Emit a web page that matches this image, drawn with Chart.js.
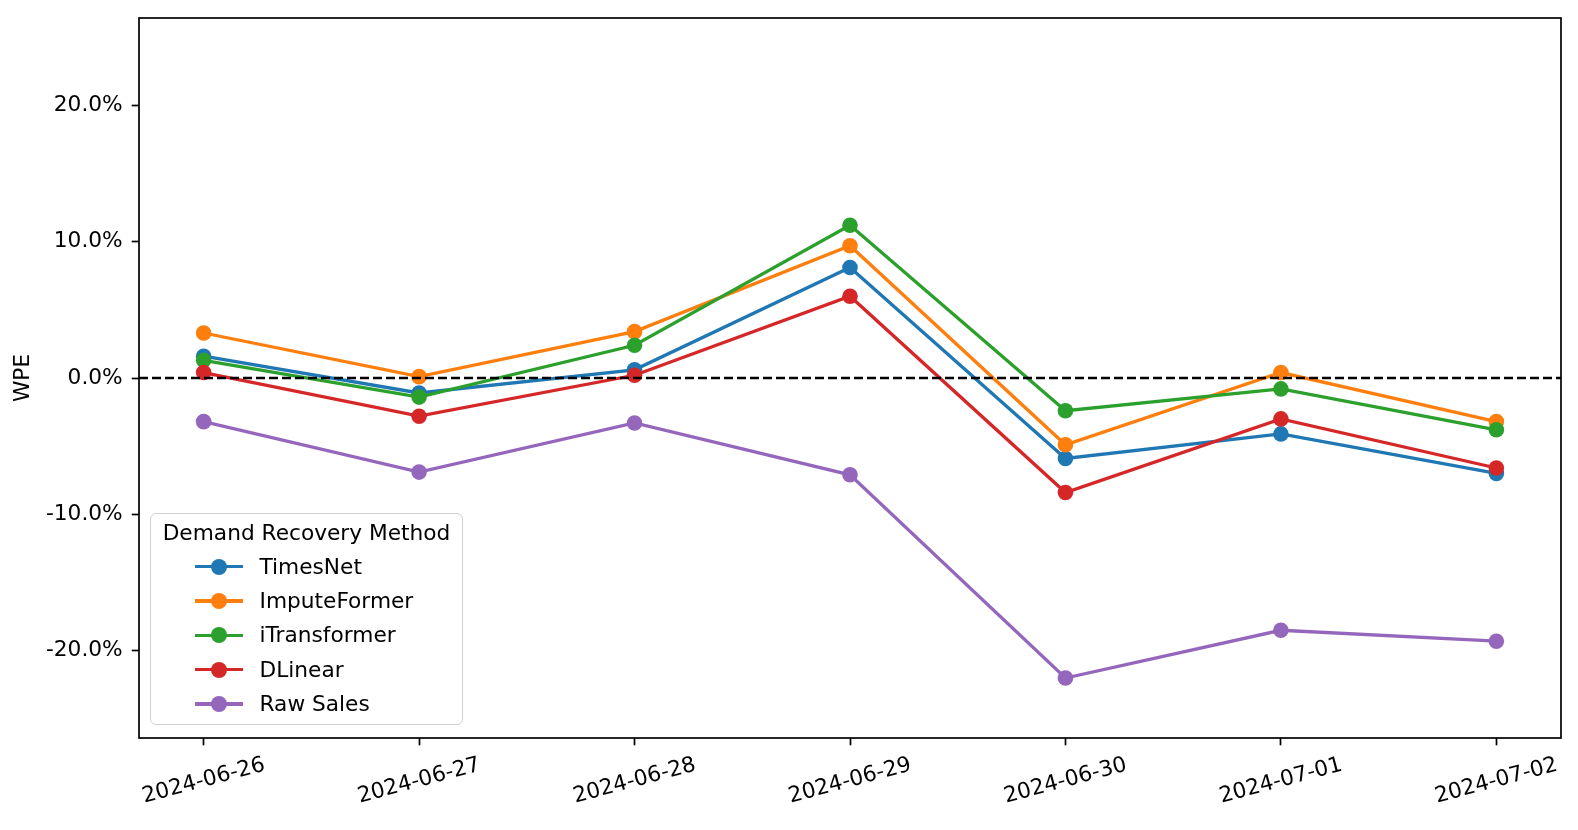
<!DOCTYPE html>
<html>
<head>
<meta charset="utf-8">
<script src="https://cdn.jsdelivr.net/npm/chart.js@4.4.1/dist/chart.umd.min.js"></script>
<style>
  body { margin: 0; background: #fff; }
  #wrap { position: relative; width: 1578px; height: 830px; }
  #legend { position: absolute; left: 150px; top: 513px; width: 313px; height: 212px;
    border: 1.5px solid #d0d0d0; border-radius: 6px; background: rgba(255,255,255,0.85);
    font: 21.7px "DejaVu Sans"; color: #000; box-sizing: border-box; }
  #legend .ttl { position: absolute; left: 0; right: 0; top: 2px; height: 34px; line-height: 34px; text-align: center; }
  #legend .row { position: absolute; left: 0; height: 34px; line-height: 34px; }
  #legend .ln { position: absolute; left: 43.5px; top: 15.4px; width: 48px; height: 3.3px; }
  #legend .dot { position: absolute; left: 59.5px; top: 9px; width: 16px; height: 16px; border-radius: 50%; }
  #legend .lbl { position: absolute; left: 108.5px; top: 0; white-space: nowrap; }
</style>
</head>
<body>
<div id="wrap">
  <canvas id="myChart" width="1578" height="830"></canvas>
  <div id="legend"></div>
</div>
<script>
// data
const dates = ['2024-06-26', '2024-06-27', '2024-06-28', '2024-06-29', '2024-06-30', '2024-07-01', '2024-07-02'];
const timesNet = [1.6, -1.1, 0.6, 8.1, -5.9, -4.1, -7.0];
const imputeFormer = [3.3, 0.1, 3.4, 9.7, -4.9, 0.4, -3.2];
const iTransformer = [1.3, -1.4, 2.4, 11.2, -2.4, -0.8, -3.8];
const dLinear = [0.4, -2.8, 0.2, 6.0, -8.4, -3.0, -6.6];
const rawSales = [-3.2, -6.9, -3.3, -7.1, -22.0, -18.5, -19.3];
const yTicks = [-20, -10, 0, 10, 20];

const seriesNames = ['TimesNet', 'ImputeFormer', 'iTransformer', 'DLinear', 'Raw Sales'];
const seriesValues = [timesNet, imputeFormer, iTransformer, dLinear, rawSales];
const colors = ['#1f77b4', '#ff7f0e', '#2ca02c', '#d62728', '#9467bd'];

Chart.defaults.font.family = '"DejaVu Sans"';
Chart.defaults.color = '#000';

let ctx = document.getElementById("myChart").getContext('2d');

// zero line, frame and rotated date labels
const extras = {
  id: 'extras',
  afterDatasetsDraw(chart) {
    const c = chart.ctx, a = chart.chartArea;
    const y0 = chart.scales.y.getPixelForValue(0);
    c.save();
    c.setLineDash([9, 4]);
    c.lineWidth = 2.5;
    c.strokeStyle = '#000';
    c.beginPath(); c.moveTo(a.left, y0); c.lineTo(a.right, y0); c.stroke();
    c.restore();
  },
  afterDraw(chart) {
    const c = chart.ctx, a = chart.chartArea;
    c.save();
    c.lineWidth = 1.7;
    c.strokeStyle = '#000';
    c.strokeRect(a.left, a.top, a.right - a.left, a.bottom - a.top);
    c.font = '21.7px "DejaVu Sans"';
    c.fillStyle = '#000';
    c.textAlign = 'center';
    c.textBaseline = 'middle';
    const ang = 15 * Math.PI / 180;
    dates.forEach((d, i) => {
      const x = chart.scales.x.getPixelForValue(i);
      const w = c.measureText(d).width;
      const h = w * Math.sin(ang) + 25 * Math.cos(ang);
      c.save();
      c.translate(x, a.bottom + 14.6 + h / 2);
      c.rotate(-ang);
      c.fillText(d, 0, 0);
      c.restore();
    });
    c.restore();
  }
};

let myChart = new Chart(ctx, {
  type: 'line',
  data: {
    datasets: seriesNames.map((name, k) => ({
      label: name,
      data: seriesValues[k].map((v, i) => ({ x: i, y: v })),
      borderColor: colors[k],
      backgroundColor: colors[k],
      pointBackgroundColor: colors[k],
      pointBorderWidth: 0,
      pointRadius: 7.8,
      borderWidth: 3.3,
      fill: false,
      tension: 0,
      order: seriesNames.length - k
    }))
  },
  options: {
    responsive: false,
    animation: false,
    devicePixelRatio: 1,
    layout: { padding: { top: 18, right: 17, left: 0, bottom: 0 } },
    plugins: { legend: { display: false }, tooltip: { enabled: false } },
    scales: {
      x: {
        type: 'linear',
        min: -0.3,
        max: 6.3,
        afterBuildTicks: s => { s.ticks = dates.map((d, i) => ({ value: i })); },
        afterFit: s => { s.height = 92; s.paddingLeft = 0; s.paddingRight = 0; },
        ticks: { display: false },
        grid: { drawOnChartArea: false, drawTicks: true, tickLength: 7.3, tickWidth: 1.7, tickColor: '#000' },
        border: { display: false }
      },
      y: {
        min: -26.4,
        max: 26.4,
        afterBuildTicks: s => { s.ticks = yTicks.map(v => ({ value: v })); },
        afterFit: s => { s.width = 139; s.paddingTop = 0; s.paddingBottom = 0; },
        ticks: { font: { size: 21.7 }, color: '#000', padding: 9, callback: v => v.toFixed(1) + '%' },
        grid: { drawOnChartArea: false, drawTicks: true, tickLength: 7.3, tickWidth: 1.7, tickColor: '#000' },
        border: { display: false },
        title: { display: true, text: 'WPE', font: { size: 21.7 }, color: '#000', padding: { top: 10, bottom: 0 } }
      }
    }
  },
  plugins: [extras]
});

// legend box
const legend = document.getElementById('legend');
let html = '<div class="ttl">Demand Recovery Method</div>';
seriesNames.forEach((name, k) => {
  const top = 35.5 + k * 34.4;
  html += '<div class="row" style="top:' + top + 'px">' +
    '<span class="ln" style="background:' + colors[k] + '"></span>' +
    '<span class="dot" style="background:' + colors[k] + '"></span>' +
    '<span class="lbl">' + name + '</span></div>';
});
legend.innerHTML = html;
</script>
</body>
</html>
